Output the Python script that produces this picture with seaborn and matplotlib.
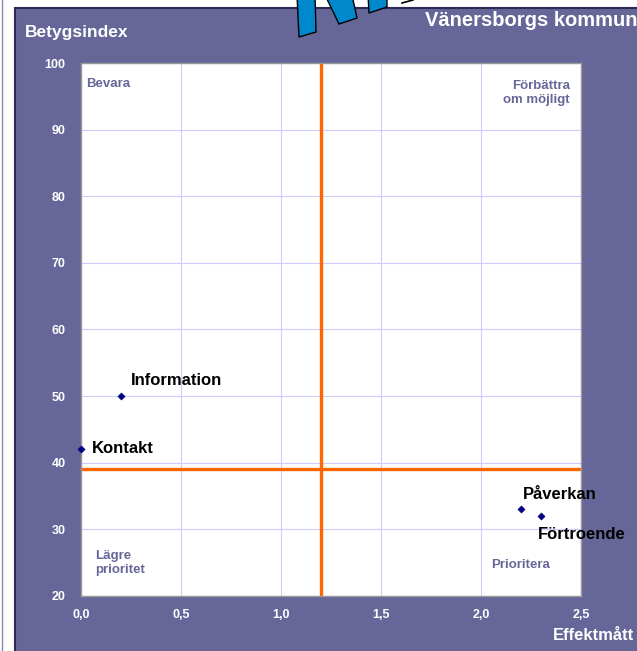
import matplotlib
matplotlib.use("Agg")
import matplotlib.pyplot as plt
import seaborn as sns
import pandas as pd
from matplotlib.patches import Rectangle, Polygon
from matplotlib.lines import Line2D

# data
names = ["Information", "Kontakt", "Påverkan", "Förtroende"]
effekt = [0.2, 0.0, 2.2, 2.3]
betyg = [50, 42, 33, 32]
label_x = [0.25, 0.055, 2.21, 2.285]
label_y = [52.4, 42.1, 35.2, 29.3]

x_ticks = [0.0, 0.5, 1.0, 1.5, 2.0, 2.5]
x_ticklabels = ["0,0", "0,5", "1,0", "1,5", "2,0", "2,5"]
y_ticks = [20, 30, 40, 50, 60, 70, 80, 90, 100]
x_cut = 1.2
y_cut = 39

df = pd.DataFrame({"Effektmått": effekt, "Betygsindex": betyg, "namn": names})

purple = "#666699"
W, H = 637, 651
fig = plt.figure(figsize=(W / 100, H / 100), dpi=100)
plt.rcParams["font.family"] = ["Liberation Sans", "DejaVu Sans"]


def fp(x, y):
    return (x / W, 1 - y / H)


# background panel
fig.patches.append(Rectangle(fp(15, H + 5), (W - 15 + 10) / W, (H - 8 + 5) / H,
                             transform=fig.transFigure, facecolor=purple,
                             edgecolor="#2a2a55", lw=1.5, zorder=-10))
fig.lines.append(Line2D([2 / W, 2 / W], [0, 1], transform=fig.transFigure,
                        color="#8888aa", lw=1, zorder=-10))

# logo fragment
logo = [
    [(297, -5), (315, -5), (316, 32), (299, 37)],
    [(325, -5), (352, -5), (357, 18), (339, 24)],
    [(368, -5), (387, -5), (387, 7), (369, 13)],
]
for poly in logo:
    fig.patches.append(Polygon([fp(*p) for p in poly], closed=True,
                               transform=fig.transFigure, facecolor="#0088cc",
                               edgecolor="black", lw=1, zorder=5))
fig.lines.append(Line2D([402 / W, 413 / W], [1 - 3 / H, 1.0], transform=fig.transFigure,
                        color="black", lw=1.2, zorder=5))

ax = fig.add_axes([81 / W, 1 - 596 / H, 500 / W, 533 / H])
ax.set_zorder(2)
ax.set_facecolor("white")

ax.axvline(x_cut, color="#ff6600", lw=2.4, zorder=2)
ax.axhline(y_cut, color="#ff6600", lw=2.4, zorder=2)

sns.scatterplot(data=df, x="Effektmått", y="Betygsindex", marker="D", s=14,
                color="#000080", edgecolor="#000080", ax=ax, zorder=3, clip_on=False)

for n, lx, ly in zip(names, label_x, label_y):
    ax.text(lx, ly, n, fontsize=12, fontweight="bold", color="black",
            ha="left", va="center", zorder=4, clip_on=False)

ax.set_xlim(0, 2.5)
ax.set_ylim(20, 100)
ax.set_xticks(x_ticks)
ax.set_xticklabels(x_ticklabels)
ax.set_yticks(y_ticks)
ax.grid(True, color="#ccccff", lw=0.8, zorder=0)
ax.set_axisbelow(True)
ax.tick_params(axis="both", length=0, labelcolor="white", labelsize=9)
ax.tick_params(axis="x", pad=9)
ax.tick_params(axis="y", pad=11)
for lab in ax.get_xticklabels() + ax.get_yticklabels():
    lab.set_fontweight("bold")
for s in ax.spines.values():
    s.set_color("#999999")
    s.set_linewidth(1)
ax.set_xlabel("")
ax.set_ylabel("")

# quadrant labels
qkw = dict(fontsize=9.5, fontweight="bold", color=purple, zorder=4)
ax.text(0.025, 96.9, "Bevara", ha="left", va="center", **qkw)
ax.text(2.445, 95.5, "Förbättra\nom möjligt", ha="right", va="center", multialignment="right", **qkw)
ax.text(0.07, 25.0, "Lägre\nprioritet", ha="left", va="center", **qkw)
ax.text(2.05, 24.65, "Prioritera", ha="left", va="center", **qkw)

# figure texts
fig.text(*fp(25, 33), "Betygsindex", fontsize=12.5, fontweight="bold", color="white",
         ha="left", va="center")
fig.text(*fp(425, 20), "Vänersborgs kommun", fontsize=14.5, fontweight="bold", color="white",
         ha="left", va="center")
fig.text(*fp(634, 636), "Effektmått", fontsize=12, fontweight="bold", color="white",
         ha="right", va="center")

fig.savefig("out.png", dpi=100, facecolor="white")
